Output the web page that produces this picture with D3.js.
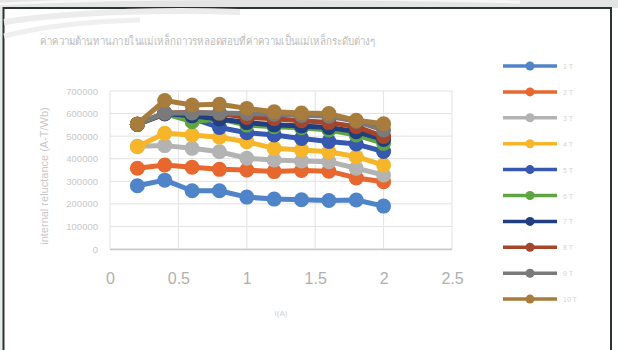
<!DOCTYPE html>
<html><head><meta charset="utf-8">
<script src="https://cdn.jsdelivr.net/npm/d3@7"></script>
<style>body{margin:0;background:#fff}svg{display:block}</style>
</head><body>
<script>
const xValues = [0.2,0.4,0.6,0.8,1.0,1.2,1.4,1.6,1.8,2.0];
const seriesNames = ["1 T","2 T","3 T","4 T","5 T","6 T","7 T","8 T","9 T","10 T"];
const s1 = [280000,305000,258000,258000,230000,221000,218000,215000,217000,190000];
const s2 = [358000,372000,362000,353000,350000,343000,348000,345000,315000,298000];
const s3 = [455000,458000,446000,431000,402000,394000,390000,387000,358000,328000];
const s4 = [453000,513000,505000,495000,475000,446000,439000,431000,409000,372000];
const s5 = [552000,598000,580000,538000,515000,505000,490000,476000,465000,432000];
const s6 = [552000,600000,564000,577000,549000,542000,537000,527000,505000,468000];
const s7 = [553000,600000,590000,576000,560000,550000,545000,538000,520000,485000];
const s8 = [553000,602000,605000,601000,583000,577000,568000,560000,542000,498000];
const s9 = [553000,603000,603000,602000,600000,597000,592000,588000,566000,527000];
const s10 = [554000,658000,638000,641000,623000,608000,602000,600000,570000,555000];
const allSeries = [s1,s2,s3,s4,s5,s6,s7,s8,s9,s10];
const colors = ["#4f84c8","#e8672f","#b3b3b3","#f7b52a","#3658b0","#5fa642","#1f3f80","#a5452a","#7a7a7a","#a87c3c"];
const xTicks = [0,0.5,1,1.5,2,2.5];
const yTicks = [0,100000,200000,300000,400000,500000,600000,700000];
const titleText = "ค่าความต้านทานภายในแม่เหล็กถาวรหลอดสอบที่ค่าความเป็นแม่เหล็กระดับต่างๆ";
const xTitle = "I(A)";
const yTitle = "internal reluctance (A-T/Wb)";

const W=618,H=350;
const svg=d3.select("body").append("svg").attr("width",W).attr("height",H);
// photo background above frame
svg.append("rect").attr("x",0).attr("y",0).attr("width",W).attr("height",8).attr("fill","#e4e4e4");
svg.append("path").attr("d","M0,4 Q200,-6 520,2").attr("stroke","#f6f6f6").attr("stroke-width",3).attr("fill","none");
svg.append("rect").attr("x",0).attr("y",8).attr("width",3).attr("height",H-8).attr("fill","#e6ece8");
// frame
svg.append("path").attr("d","M3.5,"+H+" L3.5,8 L611,8 L611,"+H).attr("stroke","#2c3432").attr("stroke-width",2).attr("fill","none");
// faint swoosh inside
svg.append("path").attr("d","M4,22 Q100,8 240,12").attr("stroke","#ececec").attr("stroke-width",6).attr("fill","none");
svg.append("path").attr("d","M4,36 Q60,22 140,20").attr("stroke","#efefef").attr("stroke-width",5).attr("fill","none");

const x=d3.scaleLinear().domain([0,2.5]).range([110,452]);
const y=d3.scaleLinear().domain([0,700000]).range([249,91]);

// gridlines
svg.append("g").selectAll("line").data(yTicks).join("line")
 .attr("x1",110).attr("x2",452).attr("y1",d=>y(d)).attr("y2",d=>y(d)).attr("stroke","#e2e2e2").attr("stroke-width",1);
svg.append("g").selectAll("line").data(xTicks).join("line")
 .attr("y1",91).attr("y2",249).attr("x1",d=>x(d)).attr("x2",d=>x(d)).attr("stroke","#e2e2e2").attr("stroke-width",1);
svg.append("line").attr("x1",110).attr("x2",452).attr("y1",249.5).attr("y2",249.5).attr("stroke","#c8c8c8").attr("stroke-width",1.5);

// axes via d3
const yAxis=svg.append("g").attr("transform","translate(100,0)").call(d3.axisLeft(y).tickValues(yTicks).tickSize(0).tickFormat(d3.format("d")));
yAxis.select(".domain").remove();
yAxis.selectAll("text").attr("fill","#c8c8c8").attr("font-family","Liberation Sans, Arial").attr("font-size",9.5).attr("x",-2);
const xAxis=svg.append("g").attr("transform","translate(0,270)").call(d3.axisBottom(x).tickValues(xTicks).tickSize(0).tickFormat(d3.format("")));
xAxis.select(".domain").remove();
xAxis.selectAll("text").attr("fill","#b0b0b0").attr("font-family","Liberation Sans, Arial").attr("font-size",16).attr("dy","0.71em");

svg.append("text").attr("x",281).attr("y",316).attr("text-anchor","middle").attr("fill","#d0d0d0")
 .attr("font-family","Liberation Sans, Arial").attr("font-size",8).text(xTitle);
svg.append("text").attr("transform","translate(48,176) rotate(-90)").attr("text-anchor","middle").attr("fill","#c8c8c8")
 .attr("font-family","Liberation Sans, Arial").attr("font-size",11).text(yTitle);
svg.append("text").attr("x",40).attr("y",45).attr("fill","#bcbcbc").attr("font-family","Noto Sans, sans-serif")
 .attr("font-size",11.5).attr("textLength",335).attr("lengthAdjust","spacingAndGlyphs").text(titleText);

// series
const line=d3.line().x((d,i)=>x(xValues[i])).y(d=>y(d));
allSeries.forEach((s,k)=>{
  const g=svg.append("g");
  g.append("path").attr("d",line(s)).attr("fill","none").attr("stroke",colors[k]).attr("stroke-width",5).attr("stroke-linejoin","round");
  g.selectAll("circle").data(s).join("circle").attr("cx",(d,i)=>x(xValues[i])).attr("cy",d=>y(d)).attr("r",7.5).attr("fill",colors[k]);
});

// legend
const lg=svg.append("g");
seriesNames.forEach((n,k)=>{
  const yy=66+k*25.9;
  lg.append("line").attr("x1",503).attr("x2",557).attr("y1",yy).attr("y2",yy).attr("stroke",colors[k]).attr("stroke-width",3.5);
  lg.append("circle").attr("cx",530).attr("cy",yy).attr("r",4.5).attr("fill",colors[k]);
  lg.append("text").attr("x",563).attr("y",yy+3).attr("fill","#d4d4d4").attr("font-family","Liberation Sans, Arial").attr("font-size",7).text(n);
});
</script>
</body></html>
